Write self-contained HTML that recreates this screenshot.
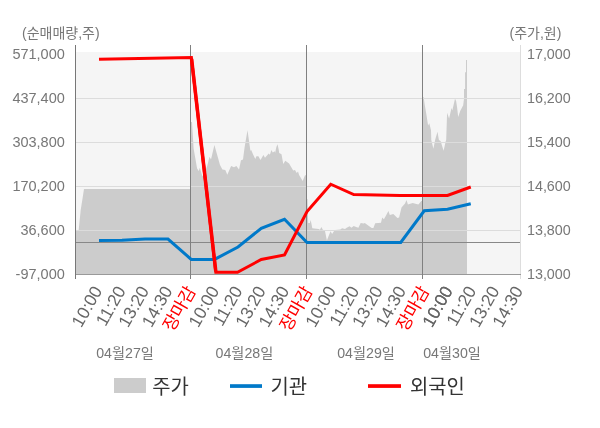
<!DOCTYPE html>
<html lang="ko"><head><meta charset="utf-8"><title>chart</title>
<style>html,body{margin:0;padding:0;background:#fff}svg{display:block}text{font-family:"Liberation Sans", "Noto Sans CJK KR", sans-serif}.yl{font-size:14.3px;fill:#777}.ti{font-size:14px;fill:#777}.xl{font-size:17.4px;fill:#666}.xr{font-size:17.4px;fill:#f00}.dl{font-size:14.2px;fill:#777}.lg{font-size:19.9px;fill:#333}</style></head><body>
<svg width="600" height="428" viewBox="0 0 600 428">
<rect x="0" y="0" width="600" height="428" fill="#fff"/>
<rect x="76" y="52" width="444" height="222" fill="#f5f5f5"/>
<polygon points="76.00,274.00 76.00,231.00 78.60,231.00 80.70,210.00 82.30,200.00 84.00,189.00 190.50,189.00 190.50,122.00 192.00,122.00 193.60,148.50 197.10,168.40 198.80,171.00 199.80,167.80 202.50,176.50 205.00,172.00 207.20,166.00 209.50,156.70 211.00,159.60 214.40,145.10 220.00,164.90 222.40,169.50 225.30,170.10 227.30,174.80 231.10,166.00 234.00,167.20 236.40,166.00 239.00,169.50 241.00,160.20 243.00,159.60 244.60,147.30 247.50,130.20 250.40,150.80 251.20,150.10 253.00,154.20 255.30,158.90 256.40,156.30 258.40,156.30 260.50,160.00 263.40,155.10 265.00,157.70 268.70,153.60 269.90,154.80 271.40,150.10 272.80,152.50 274.80,151.30 275.10,153.00 276.30,147.20 277.50,144.30 278.60,149.00 279.20,153.00 281.50,154.20 283.30,164.10 285.30,160.80 289.10,163.60 290.40,165.80 293.20,170.60 295.00,170.00 296.70,172.90 298.00,171.50 299.10,175.00 302.70,181.00 305.00,175.20 306.50,175.20 306.50,199.00 307.50,199.00 308.20,223.00 309.90,223.00 310.50,220.10 311.30,223.00 312.30,228.30 318.70,228.90 319.90,229.80 321.40,227.10 322.80,229.80 324.90,230.60 326.90,240.60 328.60,235.90 330.60,231.20 332.10,234.10 333.90,231.20 335.00,230.00 340.30,229.50 342.10,228.30 345.00,228.90 346.70,227.70 349.60,226.30 351.40,227.70 353.70,226.00 356.10,227.10 358.40,227.70 360.70,223.00 363.70,223.60 364.80,223.00 367.20,224.80 371.70,228.00 373.40,228.00 375.20,223.30 381.00,222.70 382.20,217.50 383.90,219.20 386.30,215.10 388.40,211.00 389.80,215.10 393.30,214.00 397.40,218.00 399.10,217.50 401.50,207.50 405.00,203.40 406.50,199.90 407.90,204.60 412.60,202.90 418.40,204.60 421.30,201.10 422.50,201.10 422.50,97.50 423.60,97.00 424.60,104.00 426.40,114.50 428.10,125.60 429.30,123.30 431.00,130.30 431.30,140.00 433.40,148.70 435.10,140.00 437.50,131.80 438.90,140.00 440.60,141.10 443.60,150.80 445.60,141.70 446.20,140.00 447.10,112.80 449.10,118.60 451.50,108.10 452.30,110.40 455.00,98.80 456.10,101.10 457.10,107.50 458.20,116.90 460.20,111.00 463.20,105.20 464.00,98.80 464.00,89.10 465.10,89.10 465.10,72.20 466.00,72.20 466.00,59.90 467.00,59.90 467.00,274.00" fill="#cccccc" shape-rendering="auto"/>
<rect x="76" y="98" width="444" height="1" fill="#dcdcdc"/>
<rect x="76" y="142" width="444" height="1" fill="#dcdcdc"/>
<rect x="76" y="186" width="444" height="1" fill="#dcdcdc"/>
<rect x="76" y="230" width="444" height="1" fill="#dcdcdc"/>
<rect x="520" y="45" width="1" height="234" fill="#dddddd"/>
<rect x="76" y="242" width="444" height="1" fill="#888888"/>
<rect x="76" y="274" width="445" height="1" fill="#999999"/>
<rect x="75" y="45" width="1" height="234" fill="#777777"/>
<rect x="190" y="45" width="1" height="234" fill="#808080"/>
<rect x="306" y="45" width="1" height="234" fill="#808080"/>
<rect x="422" y="45" width="1" height="234" fill="#808080"/>
<polyline points="99.00,240.50 122.00,240.30 145.00,239.00 168.00,239.00 191.25,259.40 214.50,259.40 238.00,247.00 261.25,228.25 284.50,219.25 307.00,242.50 400.75,242.50 424.25,210.75 447.50,209.25 470.75,203.75" fill="none" stroke="#0079c9" stroke-width="3" stroke-linejoin="miter"/>
<polyline points="99.00,59.30 191.40,57.60 215.80,272.30 237.50,272.30 261.25,259.50 284.50,255.00 307.00,211.50 330.75,184.25 353.75,194.50 400.00,195.50 447.50,195.50 470.75,187.00" fill="none" stroke="#ff0000" stroke-width="3" stroke-linejoin="miter"/>
<line x1="191.6" y1="59" x2="215.8" y2="271.5" stroke="#ff0000" stroke-width="3.5"/>
<text class="yl" style="font-size:14.5px" x="64.8" y="59" text-anchor="end">571,000</text>
<text class="yl" style="font-size:14.5px" x="64.8" y="103" text-anchor="end">437,400</text>
<text class="yl" style="font-size:14.5px" x="64.8" y="147" text-anchor="end">303,800</text>
<text class="yl" style="font-size:14.5px" x="64.8" y="191" text-anchor="end">170,200</text>
<text class="yl" style="font-size:14.5px" x="64.8" y="235" text-anchor="end">36,600</text>
<text class="yl" style="font-size:14.5px" x="64.8" y="279" text-anchor="end">-97,000</text>
<text class="yl" x="527" y="59">17,000</text>
<text class="yl" x="527" y="103">16,200</text>
<text class="yl" x="527" y="147">15,400</text>
<text class="yl" x="527" y="191">14,600</text>
<text class="yl" x="527" y="235">13,800</text>
<text class="yl" x="527" y="279">13,000</text>
<text class="ti" x="22" y="38">(순매매량,주)</text>
<text class="ti" x="509.5" y="38">(주가,원)</text>
<text class="xl" text-anchor="end" transform="translate(94.10,285.6) rotate(-60.5)" x="0" y="10">10:00</text>
<text class="xl" text-anchor="end" transform="translate(117.47,285.6) rotate(-60.5)" x="0" y="10">11:20</text>
<text class="xl" text-anchor="end" transform="translate(140.84,285.6) rotate(-60.5)" x="0" y="10">13:20</text>
<text class="xl" text-anchor="end" transform="translate(164.21,285.6) rotate(-60.5)" x="0" y="10">14:30</text>
<text class="xr" text-anchor="end" transform="translate(187.58,285.6) rotate(-60.5)" x="0" y="10">장마감</text>
<text class="xl" text-anchor="end" transform="translate(210.95,285.6) rotate(-60.5)" x="0" y="10">10:00</text>
<text class="xl" text-anchor="end" transform="translate(234.32,285.6) rotate(-60.5)" x="0" y="10">11:20</text>
<text class="xl" text-anchor="end" transform="translate(257.69,285.6) rotate(-60.5)" x="0" y="10">13:20</text>
<text class="xl" text-anchor="end" transform="translate(281.06,285.6) rotate(-60.5)" x="0" y="10">14:30</text>
<text class="xr" text-anchor="end" transform="translate(304.43,285.6) rotate(-60.5)" x="0" y="10">장마감</text>
<text class="xl" text-anchor="end" transform="translate(327.80,285.6) rotate(-60.5)" x="0" y="10">10:00</text>
<text class="xl" text-anchor="end" transform="translate(351.17,285.6) rotate(-60.5)" x="0" y="10">11:20</text>
<text class="xl" text-anchor="end" transform="translate(374.54,285.6) rotate(-60.5)" x="0" y="10">13:20</text>
<text class="xl" text-anchor="end" transform="translate(397.91,285.6) rotate(-60.5)" x="0" y="10">14:30</text>
<text class="xr" text-anchor="end" transform="translate(421.28,285.6) rotate(-60.5)" x="0" y="10">장마감</text>
<text class="xl" text-anchor="end" transform="translate(444.65,285.6) rotate(-60.5)" x="0" y="10">10:00</text>
<text class="xl" text-anchor="end" transform="translate(444.65,285.6) rotate(-60.5)" x="0" y="10">10:00</text>
<text class="xl" text-anchor="end" transform="translate(468.02,285.6) rotate(-60.5)" x="0" y="10">11:20</text>
<text class="xl" text-anchor="end" transform="translate(491.39,285.6) rotate(-60.5)" x="0" y="10">13:20</text>
<text class="xl" text-anchor="end" transform="translate(514.76,285.6) rotate(-60.5)" x="0" y="10">14:30</text>
<text class="dl" x="125" y="358.2" text-anchor="middle">04월27일</text>
<text class="dl" x="244.4" y="358.2" text-anchor="middle">04월28일</text>
<text class="dl" x="366" y="358.2" text-anchor="middle">04월29일</text>
<text class="dl" x="452" y="358.2" text-anchor="middle">04월30일</text>
<rect x="114" y="378" width="32" height="15" fill="#cccccc"/>
<text class="lg" x="152.3" y="393.5">주가</text>
<rect x="230" y="384.2" width="32" height="3.7" fill="#0079c9"/>
<text class="lg" x="270.5" y="393.5">기관</text>
<rect x="368" y="384.2" width="33" height="3.7" fill="#ff0000"/>
<text class="lg" x="410" y="393.5">외국인</text>
</svg></body></html>
